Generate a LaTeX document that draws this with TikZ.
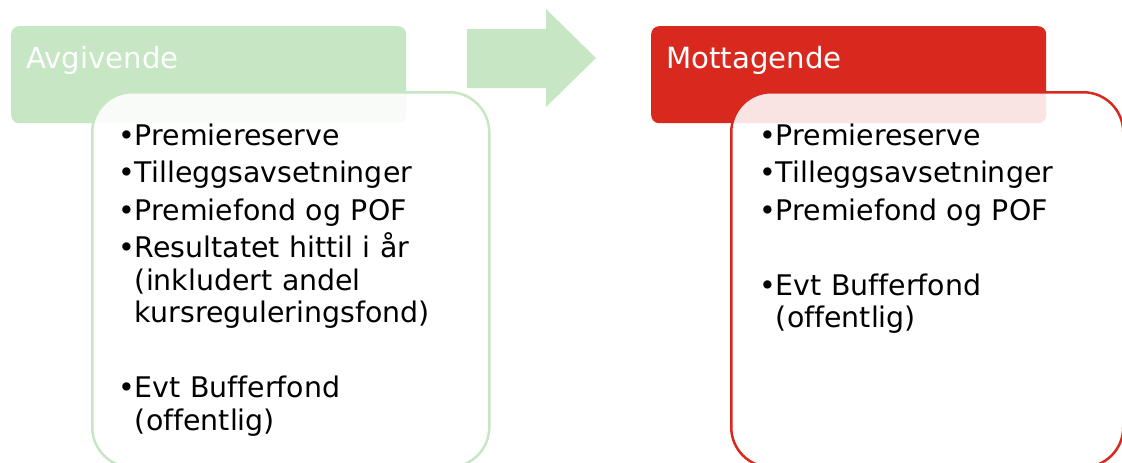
\documentclass[tikz,border=0pt]{standalone}
\usepackage{fontspec}
\setmainfont{DejaVu Sans}[Ligatures=NoCommon]
\definecolor{avgreen}{RGB}{198,230,196}
\definecolor{motred}{RGB}{217,41,30}
\tikzset{
  headbox/.style={rectangle, rounded corners=8pt, anchor=north west, inner sep=0pt,
    minimum width=395pt, minimum height=97pt},
  headtext/.style={anchor=base west, inner sep=0pt, text=white,
    font=\fontsize{29.2}{34}\selectfont},
  bodybox/.style={rectangle, rounded corners=40pt, anchor=north west, inner sep=0pt,
    line width=2.5pt, fill=white, fill opacity=0.88, minimum height=375pt},
  listtext/.style={anchor=base west, inner sep=0pt, align=left, text width=380pt,
    font=\fontsize{28.4}{32.5}\selectfont}
}
\newcommand\itemgap{\\[5pt]}
\newcommand\indt{\phantom{•}}

\begin{document}
\begin{tikzpicture}[x=1pt,y=-1pt]
	\useasboundingbox (0,0) rectangle (1122,463);

	% headers
	\node[headbox, fill=avgreen] (avgHead) at (11,26) {};
	\node[headbox, fill=motred] (motHead) at (651,26) {};
	\node[headtext] (avgTitle) at (26,68) {Avgivende};
	\node[headtext] (motTitle) at (666,68) {Mottagende};

	% flow arrow
	\fill[avgreen] (467,29) -- (546,29) -- (546,9) -- (596,58) -- (546,107) -- (546,88) -- (467,88) -- cycle;

	% bodies
	\node[bodybox, draw=avgreen, minimum width=397pt] (avgBody) at (91,91) {};
	\node[bodybox, draw=motred, minimum width=392pt] (motBody) at (730,91) {};

	\node[listtext] (avgList) at (118,145) {%
		•Premiereserve\itemgap
		•Tilleggsavsetninger\itemgap
		•Premiefond og POF\itemgap
		•Resultatet hittil i år\\
		\indt(inkludert andel\\
		\indt kursreguleringsfond)\\[42.5pt]
		•Evt Bufferfond\\
		\indt(offentlig)};

	\node[listtext] (motList) at (759,145) {%
		•Premiereserve\itemgap
		•Tilleggsavsetninger\itemgap
		•Premiefond og POF\\[42.5pt]
		•Evt Bufferfond\\
		\indt(offentlig)};
\end{tikzpicture}
\end{document}
